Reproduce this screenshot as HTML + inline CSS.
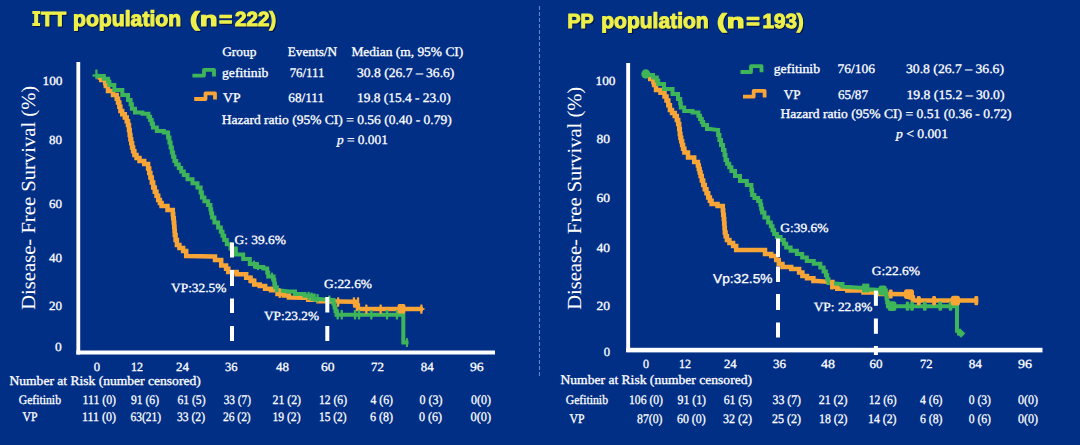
<!DOCTYPE html>
<html><head><meta charset="utf-8"><title>DFS Kaplan-Meier</title>
<style>
html,body{margin:0;padding:0;background:#022f86;}
body{width:1080px;height:445px;overflow:hidden;font-family:"Liberation Serif",serif;}
svg{display:block}
.ttl2{filter:drop-shadow(1px 1px 0.7px rgba(0,0,30,.6));}
.ttl{paint-order:stroke;filter:drop-shadow(1px 1px 0.7px rgba(0,0,30,.6));}
text{text-rendering:geometricPrecision}
.w{stroke:#fff;stroke-width:.3px}
.ttl{stroke:#eef04a;stroke-width:1.1px;stroke-linejoin:round}
</style></head><body>
<svg width="1080" height="445" viewBox="0 0 1080 445">
<rect width="1080" height="445" fill="#022f86"/>
<line x1="539.5" y1="6" x2="539.5" y2="378" stroke="#6284c8" stroke-width="1.1" stroke-dasharray="4 2"/>
<rect x="76.4" y="62" width="3.8" height="292.5" fill="#ffffff"/>
<rect x="76.4" y="350.5" width="418.6" height="4" fill="#ffffff"/>
<rect x="626.2" y="63" width="3.9" height="289" fill="#ffffff"/>
<rect x="626.2" y="347.8" width="416.3" height="4.6" fill="#ffffff"/>
<polyline points="97.5,77.5 101.2,77.5 101.2,80.0 105.0,80.0 105.2,80.0 105.2,83.0 105.5,83.0 105.8,83.0 105.8,86.0 106.0,86.0 108.0,86.0 108.0,91.0 110.0,91.0 113.0,91.0 113.0,95.0 116.0,95.0 116.7,95.0 116.7,98.8 117.3,98.8 118.0,98.8 118.0,102.5 118.7,102.5 119.3,102.5 119.3,106.8 119.8,106.8 120.4,106.8 120.4,111.0 121.0,111.0 122.2,111.0 122.2,114.2 123.5,114.2 124.8,114.2 124.8,117.5 126.0,117.5 126.7,117.5 126.7,121.2 127.3,121.2 128.0,121.2 128.0,125.0 128.7,125.0 129.0,125.0 129.0,130.0 129.3,130.0 129.7,130.0 129.7,135.0 130.0,135.0 130.4,135.0 130.4,139.2 130.8,139.2 131.2,139.2 131.2,143.3 131.7,143.3 132.1,143.3 132.1,147.5 132.5,147.5 133.1,147.5 133.1,151.2 133.8,151.2 134.4,151.2 134.4,155.0 135.0,155.0 136.5,155.0 136.5,158.0 138.0,158.0 139.5,158.0 139.5,161.0 141.0,161.0 144.2,161.0 144.2,164.0 147.5,164.0 148.1,164.0 148.1,168.5 148.7,168.5 149.2,168.5 149.2,173.0 149.8,173.0 150.4,173.0 150.4,177.5 151.0,177.5 151.8,177.5 151.8,182.5 152.5,182.5 153.2,182.5 153.2,187.5 154.0,187.5 154.8,187.5 154.8,191.7 155.7,191.7 156.5,191.7 156.5,195.8 157.3,195.8 158.2,195.8 158.2,200.0 159.0,200.0 159.9,200.0 159.9,203.0 160.8,203.0 161.6,203.0 161.6,206.0 162.5,206.0 167.5,206.0 167.5,210.0 172.5,210.0 172.8,210.0 172.8,214.2 173.0,214.2 173.2,214.2 173.2,218.3 173.5,218.3 173.8,218.3 173.8,222.5 174.0,222.5 174.2,222.5 174.2,226.7 174.3,226.7 174.5,226.7 174.5,230.8 174.7,230.8 174.8,230.8 174.8,235.0 175.0,235.0 175.6,235.0 175.6,240.0 176.2,240.0 176.9,240.0 176.9,245.0 177.5,245.0 179.4,245.0 179.4,248.0 181.2,248.0 183.1,248.0 183.1,251.0 185.0,251.0 186.2,251.0 186.2,256.0 187.5,256.0 212.5,256.5 215.0,256.5 215.0,260.0 217.5,260.0 221.2,260.0 221.2,265.4 225.0,265.4 226.1,265.4 226.1,268.7 227.2,268.7 228.3,268.7 228.3,272.0 229.4,272.0 236.7,272.0 236.7,274.2 244.0,274.2 246.2,274.2 246.2,277.8 248.4,277.8 250.6,277.8 250.6,280.8 252.7,280.8 254.2,280.8 254.2,284.4 255.7,284.4 259.7,284.4 259.7,285.9 263.7,285.9 265.1,285.9 265.1,288.8 266.6,288.8 271.0,288.8 271.0,290.3 275.4,290.3 277.5,290.3 277.5,293.9 279.7,293.9 283.8,293.9 283.8,295.4 287.8,295.4 288.9,295.4 288.9,297.6 290.0,297.6 303.8,297.8 308.2,297.8 308.2,299.7 312.6,299.7 318.5,299.7 318.5,301.2 324.3,301.2 354.4,301.8 355.5,301.8 355.5,305.5 356.7,305.5 357.9,305.5 357.9,309.1 359.0,309.1 423.0,309.1" fill="none" stroke="#f8a537" stroke-width="4.5" stroke-linejoin="miter" stroke-linecap="butt"/>
<polyline points="96.0,75.5 100.0,76.0 103.8,76.0 103.8,78.7 107.5,78.7 108.1,78.7 108.1,81.8 108.8,81.8 109.4,81.8 109.4,85.0 110.0,85.0 114.3,85.0 114.3,90.0 118.7,90.0 122.3,90.0 122.3,95.0 126.0,95.0 128.0,95.0 128.0,100.0 130.0,100.0 130.6,100.0 130.6,104.3 131.2,104.3 131.9,104.3 131.9,108.7 132.5,108.7 135.0,108.7 135.0,112.5 137.5,112.5 142.5,112.5 142.5,113.7 147.5,113.7 148.4,113.7 148.4,116.8 149.2,116.8 150.1,116.8 150.1,120.0 151.0,120.0 151.7,120.0 151.7,123.8 152.3,123.8 153.0,123.8 153.0,127.5 153.7,127.5 156.8,127.5 156.8,131.0 160.0,131.0 163.8,131.0 163.8,132.5 167.5,132.5 168.1,132.5 168.1,137.5 168.8,137.5 169.4,137.5 169.4,142.5 170.0,142.5 170.6,142.5 170.6,147.5 171.2,147.5 171.9,147.5 171.9,152.5 172.5,152.5 173.1,152.5 173.1,156.8 173.8,156.8 174.4,156.8 174.4,161.0 175.0,161.0 176.2,161.0 176.2,164.5 177.5,164.5 178.8,164.5 178.8,168.0 180.0,168.0 181.2,168.0 181.2,171.5 182.5,171.5 183.8,171.5 183.8,175.0 185.0,175.0 187.5,175.0 187.5,179.2 190.0,179.2 192.5,179.2 192.5,183.3 195.0,183.3 197.5,183.3 197.5,187.5 200.0,187.5 200.6,187.5 200.6,192.5 201.2,192.5 201.9,192.5 201.9,197.5 202.5,197.5 204.4,197.5 204.4,201.2 206.2,201.2 208.1,201.2 208.1,205.0 210.0,205.0 210.4,205.0 210.4,209.2 210.8,209.2 211.2,209.2 211.2,213.3 211.7,213.3 212.1,213.3 212.1,217.5 212.5,217.5 214.4,217.5 214.4,222.5 216.2,222.5 218.1,222.5 218.1,227.5 220.0,227.5 220.8,227.5 220.8,231.7 221.7,231.7 222.5,231.7 222.5,235.8 223.3,235.8 224.2,235.8 224.2,240.0 225.0,240.0 226.8,240.0 226.8,244.3 228.7,244.3 230.5,244.3 230.5,248.6 232.3,248.6 235.9,248.6 235.9,254.5 239.6,254.5 243.2,254.5 243.2,258.9 246.9,258.9 249.8,258.9 249.8,264.0 252.7,264.0 256.4,264.0 256.4,266.9 260.0,266.9 263.3,266.9 263.3,268.4 266.6,268.4 267.2,268.4 267.2,272.4 267.7,272.4 268.2,272.4 268.2,276.4 268.8,276.4 273.2,276.4 273.6,276.4 273.6,280.0 273.9,280.0 274.3,280.0 274.3,283.7 274.7,283.7 275.0,283.7 275.0,287.3 275.4,287.3 276.9,287.3 276.9,290.3 278.3,290.3 289.2,291.4 295.0,291.4 295.0,293.9 300.9,293.9 304.5,293.9 304.5,295.8 308.2,295.8 313.3,295.8 313.3,299.0 318.4,299.0 333.0,300.0 333.5,300.0 333.5,303.7 334.0,303.7 334.5,303.7 334.5,307.4 335.0,307.4 335.5,307.4 335.5,311.0 336.0,311.0 336.5,311.0 336.5,314.7 337.0,314.7 403.3,314.7 403.3,342.6 408.5,342.6" fill="none" stroke="#3fb55a" stroke-width="4.0" stroke-linejoin="miter" stroke-linecap="butt"/>
<polyline points="647.5,76.0 650.2,76.0 650.2,79.0 653.0,79.0 653.4,79.0 653.4,82.0 653.8,82.0 654.1,82.0 654.1,85.0 654.5,85.0 656.0,85.0 656.0,90.0 657.5,90.0 660.5,90.0 660.5,92.7 663.5,92.7 664.5,92.7 664.5,96.6 665.5,96.6 666.5,96.6 666.5,100.5 667.5,100.5 668.3,100.5 668.3,105.2 669.1,105.2 669.9,105.2 669.9,110.0 670.7,110.0 672.0,110.0 672.0,113.0 673.4,113.0 674.7,113.0 674.7,116.0 676.0,116.0 676.8,116.0 676.8,120.0 677.5,120.0 678.2,120.0 678.2,124.0 679.0,124.0 679.2,124.0 679.2,129.0 679.5,129.0 679.8,129.0 679.8,134.0 680.0,134.0 680.4,134.0 680.4,137.7 680.8,137.7 681.2,137.7 681.2,141.3 681.7,141.3 682.1,141.3 682.1,145.0 682.5,145.0 683.1,145.0 683.1,148.8 683.8,148.8 684.4,148.8 684.4,152.5 685.0,152.5 688.0,152.5 688.0,157.5 691.0,157.5 694.2,157.5 694.2,162.0 697.5,162.0 697.9,162.0 697.9,165.5 698.4,165.5 698.8,165.5 698.8,169.0 699.2,169.0 699.7,169.0 699.7,172.5 700.1,172.5 700.6,172.5 700.6,176.0 701.0,176.0 701.8,176.0 701.8,180.5 702.5,180.5 703.2,180.5 703.2,185.0 704.0,185.0 704.8,185.0 704.8,189.2 705.7,189.2 706.5,189.2 706.5,193.3 707.3,193.3 708.2,193.3 708.2,197.5 709.0,197.5 709.9,197.5 709.9,200.8 710.8,200.8 711.6,200.8 711.6,204.0 712.5,204.0 717.5,204.0 717.5,206.0 722.5,206.0 722.8,206.0 722.8,210.3 723.0,210.3 723.2,210.3 723.2,214.7 723.5,214.7 723.8,214.7 723.8,219.0 724.0,219.0 724.2,219.0 724.2,223.5 724.3,223.5 724.5,223.5 724.5,228.0 724.7,228.0 724.8,228.0 724.8,232.5 725.0,232.5 725.6,232.5 725.6,236.2 726.2,236.2 726.9,236.2 726.9,240.0 727.5,240.0 729.4,240.0 729.4,243.0 731.2,243.0 733.1,243.0 733.1,246.0 735.0,246.0 736.2,246.0 736.2,250.0 737.5,250.0 762.5,250.0 765.0,250.0 765.0,254.0 767.5,254.0 771.2,254.0 771.2,256.0 775.0,256.0 776.2,256.0 776.2,260.0 777.5,260.0 778.8,260.0 778.8,264.0 780.0,264.0 782.5,264.0 782.5,267.0 785.0,267.0 791.2,267.0 791.2,269.0 797.5,269.0 799.1,269.0 799.1,272.5 800.8,272.5 802.4,272.5 802.4,276.0 804.0,276.0 807.0,276.0 807.0,278.2 810.0,278.2 813.4,278.2 813.4,281.0 816.7,281.0 831.0,282.0 832.5,282.0 832.5,286.8 833.9,286.8 837.2,286.8 837.2,288.7 840.6,288.7 847.3,288.7 847.3,290.6 854.0,290.6 863.5,290.6 863.5,292.5 873.0,292.5 879.7,292.5 879.7,294.0 886.4,294.0 909.4,294.2 910.6,294.2 910.6,297.4 911.8,297.4 912.9,297.4 912.9,300.6 914.1,300.6 978.2,300.6" fill="none" stroke="#f8a537" stroke-width="4.5" stroke-linejoin="miter" stroke-linecap="butt"/>
<polyline points="645.0,73.7 647.5,73.7 647.5,75.0 650.0,75.0 653.0,75.0 653.0,77.5 656.0,77.5 656.8,77.5 656.8,80.8 657.5,80.8 658.2,80.8 658.2,84.0 659.0,84.0 664.0,84.0 664.0,89.0 669.0,89.0 672.5,89.0 672.5,94.0 676.0,94.0 678.0,94.0 678.0,99.0 680.0,99.0 680.2,99.0 680.2,103.2 680.5,103.2 680.8,103.2 680.8,107.5 681.0,107.5 684.2,107.5 684.2,111.0 687.5,111.0 692.5,111.0 692.5,112.5 697.5,112.5 698.4,112.5 698.4,115.8 699.2,115.8 700.1,115.8 700.1,119.0 701.0,119.0 701.8,119.0 701.8,122.0 702.5,122.0 703.2,122.0 703.2,125.0 704.0,125.0 707.0,125.0 707.0,129.0 710.0,129.0 717.5,130.0 718.1,130.0 718.1,135.0 718.8,135.0 719.4,135.0 719.4,140.0 720.0,140.0 721.0,140.0 721.0,145.0 722.0,145.0 723.0,145.0 723.0,150.0 724.0,150.0 724.5,150.0 724.5,155.0 725.0,155.0 725.5,155.0 725.5,160.0 726.0,160.0 727.1,160.0 727.1,163.7 728.2,163.7 729.2,163.7 729.2,167.3 730.3,167.3 731.4,167.3 731.4,171.0 732.5,171.0 735.0,171.0 735.0,176.0 737.5,176.0 740.0,176.0 740.0,181.0 742.5,181.0 746.8,181.0 746.8,185.0 751.0,185.0 751.4,185.0 751.4,190.0 751.8,190.0 752.1,190.0 752.1,195.0 752.5,195.0 754.4,195.0 754.4,198.0 756.2,198.0 758.1,198.0 758.1,201.0 760.0,201.0 760.4,201.0 760.4,204.8 760.8,204.8 761.2,204.8 761.2,208.7 761.7,208.7 762.1,208.7 762.1,212.5 762.5,212.5 764.4,212.5 764.4,217.5 766.2,217.5 768.1,217.5 768.1,222.5 770.0,222.5 770.8,222.5 770.8,226.3 771.7,226.3 772.5,226.3 772.5,230.2 773.3,230.2 774.2,230.2 774.2,234.0 775.0,234.0 776.9,234.0 776.9,237.0 778.8,237.0 780.6,237.0 780.6,240.0 782.5,240.0 783.8,240.0 783.8,243.8 785.0,243.8 786.2,243.8 786.2,247.5 787.5,247.5 790.6,247.5 790.6,250.8 793.8,250.8 796.9,250.8 796.9,254.0 800.0,254.0 802.2,254.0 802.2,257.5 804.5,257.5 806.8,257.5 806.8,261.0 809.0,261.0 813.8,261.0 813.8,263.8 818.6,263.8 820.3,263.8 820.3,267.6 822.0,267.6 823.6,267.6 823.6,271.5 825.3,271.5 825.9,271.5 825.9,275.3 826.6,275.3 827.2,275.3 827.2,279.2 827.8,279.2 828.5,279.2 828.5,283.0 829.1,283.0 840.6,283.9 842.5,283.9 842.5,286.8 844.4,286.8 859.7,287.7 866.4,287.7 866.4,289.6 873.0,289.6 885.5,290.6 885.9,290.6 885.9,294.5 886.2,294.5 886.5,294.5 886.5,298.4 886.9,298.4 887.2,298.4 887.2,302.3 887.6,302.3 887.9,302.3 887.9,306.2 888.3,306.2 957.0,306.2 957.0,330.7 959.0,330.7 959.0,333.6 961.0,333.6" fill="none" stroke="#3fb55a" stroke-width="4.0" stroke-linejoin="miter" stroke-linecap="butt"/>
<rect x="95.3" y="69.6" width="2.2" height="9.6" rx="0.6" fill="#3fb55a"/>
<rect x="92.5" y="74.4" width="9" height="2.2" fill="#3fb55a"/>
<rect x="336.5" y="310.0" width="2.3" height="9.4" rx="0.6" fill="#3fb55a"/><rect x="340.6" y="310.0" width="2.3" height="9.4" rx="0.6" fill="#3fb55a"/><rect x="353.9" y="310.0" width="2.3" height="9.4" rx="0.6" fill="#3fb55a"/><rect x="357.9" y="310.0" width="2.3" height="9.4" rx="0.6" fill="#3fb55a"/><rect x="370.2" y="310.0" width="2.3" height="9.4" rx="0.6" fill="#3fb55a"/><rect x="385.9" y="310.0" width="2.3" height="9.4" rx="0.6" fill="#3fb55a"/><rect x="395.8" y="310.0" width="2.3" height="9.4" rx="0.6" fill="#3fb55a"/>
<rect x="307.4" y="291.8" width="2.3" height="8.5" rx="0.6" fill="#3fb55a"/><rect x="310.4" y="292.6" width="2.3" height="8.5" rx="0.6" fill="#3fb55a"/><rect x="313.4" y="293.4" width="2.3" height="8.5" rx="0.6" fill="#3fb55a"/><rect x="316.4" y="294.1" width="2.3" height="8.5" rx="0.6" fill="#3fb55a"/><rect x="328.2" y="295.6" width="2.3" height="8.5" rx="0.6" fill="#3fb55a"/>
<rect x="253.0" y="260.5" width="2" height="8" rx="0.6" fill="#3fb55a"/><rect x="257.0" y="262.2" width="2" height="8" rx="0.6" fill="#3fb55a"/><rect x="271.0" y="272.4" width="2" height="8" rx="0.6" fill="#3fb55a"/>
<rect x="249.5" y="275.5" width="2" height="8" rx="0.6" fill="#f8a537"/><rect x="253.0" y="278.5" width="2" height="8" rx="0.6" fill="#f8a537"/>
<rect x="406.0" y="338.0" width="2" height="9" rx="0.6" fill="#3fb55a"/>
<rect x="278.6" y="288.6" width="2.3" height="9.4" rx="0.6" fill="#f8a537"/>
<rect x="337.0" y="297.3" width="2.3" height="9.4" rx="0.6" fill="#f8a537"/><rect x="352.8" y="297.3" width="2.3" height="9.4" rx="0.6" fill="#f8a537"/><rect x="356.9" y="297.3" width="2.3" height="9.4" rx="0.6" fill="#f8a537"/>
<rect x="365.2" y="304.4" width="2.3" height="9.4" rx="0.6" fill="#f8a537"/><rect x="379.5" y="304.4" width="2.3" height="9.4" rx="0.6" fill="#f8a537"/><rect x="420.2" y="304.4" width="2.3" height="9.4" rx="0.6" fill="#f8a537"/>
<path d="M421,306.9 L425.4,309.1 L421,311.3 Z" fill="#f8a537"/>
<rect x="397.6" y="304" width="7.8" height="9.4" rx="1.5" fill="#f8a537"/>
<ellipse cx="645.8" cy="74" rx="4.5" ry="4.7" fill="#3fb55a"/>
<rect x="905.7" y="301.6" width="3.6" height="9.2" rx="1.2" fill="#3fb55a"/><rect x="910.2" y="301.6" width="3.6" height="9.2" rx="1.2" fill="#3fb55a"/><rect x="923.0" y="301.6" width="3.6" height="9.2" rx="1.2" fill="#3fb55a"/><rect x="938.4" y="301.6" width="3.6" height="9.2" rx="1.2" fill="#3fb55a"/><rect x="948.7" y="301.6" width="3.6" height="9.2" rx="1.2" fill="#3fb55a"/>
<rect x="862.1" y="283.5" width="3.8" height="9" rx="1.2" fill="#3fb55a"/><rect x="865.6" y="283.5" width="3.8" height="9" rx="1.2" fill="#3fb55a"/>
<rect x="878.5" y="285.5" width="8.2" height="10" rx="2.5" fill="#3fb55a"/>
<rect x="887.6" y="301.3" width="8.8" height="9.8" rx="2.5" fill="#3fb55a"/>
<rect x="958.0" y="330.6" width="6.0" height="6.0" fill="#3fb55a" transform="rotate(45 961.0 333.6)"/>
<rect x="830.1" y="280.4" width="3.8" height="9.2" rx="1.2" fill="#f8a537"/><rect x="888.8" y="289.4" width="3.8" height="9.2" rx="1.2" fill="#f8a537"/>
<rect x="916.9" y="296.0" width="3.8" height="9.2" rx="1.2" fill="#f8a537"/><rect x="932.2" y="296.0" width="3.8" height="9.2" rx="1.2" fill="#f8a537"/><rect x="974.4" y="296.0" width="3.8" height="9.2" rx="1.2" fill="#f8a537"/>
<rect x="904" y="289.3" width="10" height="9.8" rx="2.5" fill="#f8a537"/>
<rect x="950.8" y="295.7" width="9.2" height="9.8" rx="2.5" fill="#f8a537"/>
<rect x="230.0" y="242.5" width="4" height="15.0" fill="#ffffff"/><rect x="230.0" y="270.0" width="4" height="16.0" fill="#ffffff"/><rect x="230.0" y="298.5" width="4" height="14.5" fill="#ffffff"/><rect x="230.0" y="326.0" width="4" height="15.0" fill="#ffffff"/>
<rect x="325.3" y="297.0" width="4" height="15.5" fill="#ffffff"/><rect x="325.3" y="326.0" width="4" height="15.0" fill="#ffffff"/>
<rect x="776.0" y="238.5" width="4" height="18.5" fill="#ffffff"/><rect x="776.0" y="266.5" width="4" height="15.5" fill="#ffffff"/><rect x="776.0" y="294.0" width="4" height="16.0" fill="#ffffff"/><rect x="776.0" y="322.5" width="4" height="15.0" fill="#ffffff"/>
<rect x="873.9" y="290.6" width="4" height="15.2" fill="#ffffff"/><rect x="873.9" y="318.5" width="4" height="15.3" fill="#ffffff"/><rect x="873.9" y="346.0" width="4" height="9.0" fill="#ffffff"/>
<path d="M192.4,75.6H204V69.8H214V76.5" fill="none" stroke="#3fb55a" stroke-width="3.8" stroke-linejoin="round"/>
<path d="M194.2,99H205.5V93.3H215V99.5" fill="none" stroke="#f8a537" stroke-width="3.8" stroke-linejoin="round"/>
<path d="M740.5,72H751V66.2H761.5V72.2" fill="none" stroke="#3fb55a" stroke-width="3.8" stroke-linejoin="round"/>
<path d="M743,96.7H753.7V90.8H764.6V97.5" fill="none" stroke="#f8a537" stroke-width="3.8" stroke-linejoin="round"/>
<path class="ttl2" d="M32.3,11.1H40.1V13.9H38.2V23.1H40.1V25.9H32.3V23.1H34.2V13.9H32.3Z" fill="#eef04a"/>
<text x="40.9" y="26.0" font-family="Liberation Sans" font-size="20.4" fill="#eef04a" font-weight="bold" font-style="normal" textLength="25.3" lengthAdjust="spacingAndGlyphs" class="ttl">TT</text>
<text x="73.0" y="26.0" font-family="Liberation Sans" font-size="21.5" fill="#eef04a" font-weight="bold" font-style="normal" textLength="108.2" lengthAdjust="spacingAndGlyphs" class="ttl">population</text>
<text x="190.0" y="26.0" font-family="Liberation Sans" font-size="20.4" fill="#eef04a" font-weight="bold" font-style="normal" textLength="27.5" lengthAdjust="spacingAndGlyphs" class="ttl">(n</text>
<text x="218.9" y="26.0" font-family="Liberation Sans" font-size="20.4" fill="#eef04a" font-weight="bold" font-style="normal" textLength="13.4" lengthAdjust="spacingAndGlyphs" class="ttl">=</text>
<text x="235.0" y="26.0" font-family="Liberation Sans" font-size="20.4" fill="#eef04a" font-weight="bold" font-style="normal" textLength="41.2" lengthAdjust="spacingAndGlyphs" class="ttl">222)</text>
<text x="222.2" y="55.8" font-family="Liberation Serif" font-size="13" fill="#ffffff" font-weight="normal" font-style="normal" textLength="34.2" lengthAdjust="spacingAndGlyphs" class="w">Group</text>
<text x="287.8" y="55.8" font-family="Liberation Serif" font-size="13" fill="#ffffff" font-weight="normal" font-style="normal" textLength="49.2" lengthAdjust="spacingAndGlyphs" class="w">Events/N</text>
<text x="351.4" y="55.8" font-family="Liberation Serif" font-size="13" fill="#ffffff" font-weight="normal" font-style="normal" textLength="111.9" lengthAdjust="spacingAndGlyphs" class="w">Median (m, 95% CI)</text>
<text x="222.0" y="76.7" font-family="Liberation Serif" font-size="13" fill="#ffffff" font-weight="normal" font-style="normal" textLength="46.3" lengthAdjust="spacingAndGlyphs" class="w">gefitinib</text>
<text x="289.7" y="76.7" font-family="Liberation Serif" font-size="13" fill="#ffffff" font-weight="normal" font-style="normal" textLength="34.7" lengthAdjust="spacingAndGlyphs" class="w">76/111</text>
<text x="357.0" y="76.7" font-family="Liberation Serif" font-size="13" fill="#ffffff" font-weight="normal" font-style="normal" textLength="97.4" lengthAdjust="spacingAndGlyphs" class="w">30.8 (26.7 – 36.6)</text>
<text x="223.0" y="101.7" font-family="Liberation Serif" font-size="13" fill="#ffffff" font-weight="normal" font-style="normal" textLength="17.5" lengthAdjust="spacingAndGlyphs" class="w">VP</text>
<text x="288.3" y="101.7" font-family="Liberation Serif" font-size="13" fill="#ffffff" font-weight="normal" font-style="normal" textLength="35.7" lengthAdjust="spacingAndGlyphs" class="w">68/111</text>
<text x="357.0" y="101.7" font-family="Liberation Serif" font-size="13" fill="#ffffff" font-weight="normal" font-style="normal" textLength="93.8" lengthAdjust="spacingAndGlyphs" class="w">19.8 (15.4 - 23.0)</text>
<text x="221.7" y="123.9" font-family="Liberation Serif" font-size="13" fill="#ffffff" font-weight="normal" font-style="normal" textLength="230.0" lengthAdjust="spacingAndGlyphs" class="w">Hazard ratio (95% CI) = 0.56 (0.40 - 0.79)</text>
<text x="337" y="143.9" font-family="Liberation Serif" font-size="13" fill="#ffffff" class="w" textLength="50.8" lengthAdjust="spacingAndGlyphs"><tspan font-style="italic">p</tspan> = 0.001</text>
<text x="42.5" y="85.0" font-family="Liberation Serif" font-size="12.5" fill="#ffffff" font-weight="normal" font-style="normal" textLength="20.0" lengthAdjust="spacingAndGlyphs" class="w">100</text>
<text x="49.0" y="144.3" font-family="Liberation Serif" font-size="12.5" fill="#ffffff" font-weight="normal" font-style="normal" textLength="13.0" lengthAdjust="spacingAndGlyphs" class="w">80</text>
<text x="49.0" y="208.3" font-family="Liberation Serif" font-size="12.5" fill="#ffffff" font-weight="normal" font-style="normal" textLength="13.0" lengthAdjust="spacingAndGlyphs" class="w">60</text>
<text x="49.0" y="262.2" font-family="Liberation Serif" font-size="12.5" fill="#ffffff" font-weight="normal" font-style="normal" textLength="13.0" lengthAdjust="spacingAndGlyphs" class="w">40</text>
<text x="49.0" y="310.0" font-family="Liberation Serif" font-size="12.5" fill="#ffffff" font-weight="normal" font-style="normal" textLength="13.0" lengthAdjust="spacingAndGlyphs" class="w">20</text>
<text x="55.0" y="351.3" font-family="Liberation Serif" font-size="12.5" fill="#ffffff" font-weight="normal" font-style="normal" textLength="6.7" lengthAdjust="spacingAndGlyphs" class="w">0</text>
<text x="93.7" y="370.7" font-family="Liberation Serif" font-size="12.5" fill="#ffffff" font-weight="normal" font-style="normal" textLength="6.3" lengthAdjust="spacingAndGlyphs" class="w">0</text>
<text x="131.0" y="370.7" font-family="Liberation Serif" font-size="12.5" fill="#ffffff" font-weight="normal" font-style="normal" textLength="12.0" lengthAdjust="spacingAndGlyphs" class="w">12</text>
<text x="176.0" y="370.7" font-family="Liberation Serif" font-size="12.5" fill="#ffffff" font-weight="normal" font-style="normal" textLength="13.0" lengthAdjust="spacingAndGlyphs" class="w">24</text>
<text x="225.0" y="370.7" font-family="Liberation Serif" font-size="12.5" fill="#ffffff" font-weight="normal" font-style="normal" textLength="12.5" lengthAdjust="spacingAndGlyphs" class="w">36</text>
<text x="276.0" y="370.7" font-family="Liberation Serif" font-size="12.5" fill="#ffffff" font-weight="normal" font-style="normal" textLength="13.0" lengthAdjust="spacingAndGlyphs" class="w">48</text>
<text x="321.0" y="370.7" font-family="Liberation Serif" font-size="12.5" fill="#ffffff" font-weight="normal" font-style="normal" textLength="13.5" lengthAdjust="spacingAndGlyphs" class="w">60</text>
<text x="371.0" y="370.7" font-family="Liberation Serif" font-size="12.5" fill="#ffffff" font-weight="normal" font-style="normal" textLength="13.0" lengthAdjust="spacingAndGlyphs" class="w">72</text>
<text x="420.7" y="370.7" font-family="Liberation Serif" font-size="12.5" fill="#ffffff" font-weight="normal" font-style="normal" textLength="13.0" lengthAdjust="spacingAndGlyphs" class="w">84</text>
<text x="470.0" y="370.7" font-family="Liberation Serif" font-size="12.5" fill="#ffffff" font-weight="normal" font-style="normal" textLength="13.7" lengthAdjust="spacingAndGlyphs" class="w">96</text>
<text x="234.5" y="243.7" font-family="Liberation Serif" font-size="12.5" fill="#ffffff" font-weight="normal" font-style="normal" textLength="51.5" lengthAdjust="spacingAndGlyphs" class="w">G: 39.6%</text>
<text x="324.0" y="287.5" font-family="Liberation Serif" font-size="12.5" fill="#ffffff" font-weight="normal" font-style="normal" textLength="48.0" lengthAdjust="spacingAndGlyphs" class="w">G:22.6%</text>
<text x="264.0" y="320.0" font-family="Liberation Serif" font-size="12.5" fill="#ffffff" font-weight="normal" font-style="normal" textLength="55.0" lengthAdjust="spacingAndGlyphs" class="w">VP:23.2%</text>
<text x="171.0" y="292.3" font-family="Liberation Serif" font-size="12.5" fill="#ffffff" font-weight="normal" font-style="normal" textLength="55.5" lengthAdjust="spacingAndGlyphs" class="w">VP:32.5%</text>
<text transform="translate(35,309.8) rotate(-90)" font-family="Liberation Serif" font-size="20" fill="#ffffff" textLength="224" lengthAdjust="spacingAndGlyphs">Disease- Free Survival (%)</text>
<text x="9.5" y="384.8" font-family="Liberation Serif" font-size="13" fill="#ffffff" font-weight="normal" font-style="normal" textLength="191.2" lengthAdjust="spacingAndGlyphs" class="w">Number at Risk (number censored)</text>
<text x="18.7" y="403.7" font-family="Liberation Serif" font-size="13" fill="#ffffff" font-weight="normal" font-style="normal" textLength="42.3" lengthAdjust="spacingAndGlyphs" class="w">Gefitinib</text>
<text x="22.5" y="420.7" font-family="Liberation Serif" font-size="13" fill="#ffffff" font-weight="normal" font-style="normal" textLength="15.0" lengthAdjust="spacingAndGlyphs" class="w">VP</text>
<text x="82.5" y="403.7" font-family="Liberation Serif" font-size="13" fill="#ffffff" font-weight="normal" font-style="normal" textLength="33.5" lengthAdjust="spacingAndGlyphs" class="w">111 (0)</text>
<text x="131.0" y="403.7" font-family="Liberation Serif" font-size="13" fill="#ffffff" font-weight="normal" font-style="normal" textLength="28.0" lengthAdjust="spacingAndGlyphs" class="w">91 (6)</text>
<text x="177.5" y="403.7" font-family="Liberation Serif" font-size="13" fill="#ffffff" font-weight="normal" font-style="normal" textLength="28.0" lengthAdjust="spacingAndGlyphs" class="w">61 (5)</text>
<text x="223.7" y="403.7" font-family="Liberation Serif" font-size="13" fill="#ffffff" font-weight="normal" font-style="normal" textLength="27.3" lengthAdjust="spacingAndGlyphs" class="w">33 (7)</text>
<text x="272.5" y="403.7" font-family="Liberation Serif" font-size="13" fill="#ffffff" font-weight="normal" font-style="normal" textLength="28.5" lengthAdjust="spacingAndGlyphs" class="w">21 (2)</text>
<text x="319.0" y="403.7" font-family="Liberation Serif" font-size="13" fill="#ffffff" font-weight="normal" font-style="normal" textLength="28.0" lengthAdjust="spacingAndGlyphs" class="w">12 (6)</text>
<text x="370.5" y="403.7" font-family="Liberation Serif" font-size="13" fill="#ffffff" font-weight="normal" font-style="normal" textLength="22.5" lengthAdjust="spacingAndGlyphs" class="w">4 (6)</text>
<text x="419.5" y="403.7" font-family="Liberation Serif" font-size="13" fill="#ffffff" font-weight="normal" font-style="normal" textLength="23.0" lengthAdjust="spacingAndGlyphs" class="w">0 (3)</text>
<text x="471.0" y="403.7" font-family="Liberation Serif" font-size="13" fill="#ffffff" font-weight="normal" font-style="normal" textLength="20.0" lengthAdjust="spacingAndGlyphs" class="w">0(0)</text>
<text x="82.0" y="420.7" font-family="Liberation Serif" font-size="13" fill="#ffffff" font-weight="normal" font-style="normal" textLength="34.0" lengthAdjust="spacingAndGlyphs" class="w">111 (0)</text>
<text x="130.5" y="420.7" font-family="Liberation Serif" font-size="13" fill="#ffffff" font-weight="normal" font-style="normal" textLength="30.5" lengthAdjust="spacingAndGlyphs" class="w">63(21)</text>
<text x="177.0" y="420.7" font-family="Liberation Serif" font-size="13" fill="#ffffff" font-weight="normal" font-style="normal" textLength="28.0" lengthAdjust="spacingAndGlyphs" class="w">33 (2)</text>
<text x="223.0" y="420.7" font-family="Liberation Serif" font-size="13" fill="#ffffff" font-weight="normal" font-style="normal" textLength="27.7" lengthAdjust="spacingAndGlyphs" class="w">26 (2)</text>
<text x="272.5" y="420.7" font-family="Liberation Serif" font-size="13" fill="#ffffff" font-weight="normal" font-style="normal" textLength="28.0" lengthAdjust="spacingAndGlyphs" class="w">19 (2)</text>
<text x="319.0" y="420.7" font-family="Liberation Serif" font-size="13" fill="#ffffff" font-weight="normal" font-style="normal" textLength="27.5" lengthAdjust="spacingAndGlyphs" class="w">15 (2)</text>
<text x="370.0" y="420.7" font-family="Liberation Serif" font-size="13" fill="#ffffff" font-weight="normal" font-style="normal" textLength="23.0" lengthAdjust="spacingAndGlyphs" class="w">6 (8)</text>
<text x="419.0" y="420.7" font-family="Liberation Serif" font-size="13" fill="#ffffff" font-weight="normal" font-style="normal" textLength="23.0" lengthAdjust="spacingAndGlyphs" class="w">0 (6)</text>
<text x="470.5" y="420.7" font-family="Liberation Serif" font-size="13" fill="#ffffff" font-weight="normal" font-style="normal" textLength="20.5" lengthAdjust="spacingAndGlyphs" class="w">0(0)</text>
<text x="567.5" y="27.8" font-family="Liberation Sans" font-size="20.4" fill="#eef04a" font-weight="bold" font-style="normal" textLength="26.2" lengthAdjust="spacingAndGlyphs" class="ttl">PP</text>
<text x="601.2" y="27.8" font-family="Liberation Sans" font-size="21.5" fill="#eef04a" font-weight="bold" font-style="normal" textLength="107.5" lengthAdjust="spacingAndGlyphs" class="ttl">population</text>
<text x="717.0" y="27.8" font-family="Liberation Sans" font-size="20.4" fill="#eef04a" font-weight="bold" font-style="normal" textLength="27.5" lengthAdjust="spacingAndGlyphs" class="ttl">(n</text>
<text x="746.2" y="27.8" font-family="Liberation Sans" font-size="20.4" fill="#eef04a" font-weight="bold" font-style="normal" textLength="13.6" lengthAdjust="spacingAndGlyphs" class="ttl">=</text>
<text x="762.5" y="27.8" font-family="Liberation Sans" font-size="20.4" fill="#eef04a" font-weight="bold" font-style="normal" textLength="41.2" lengthAdjust="spacingAndGlyphs" class="ttl">193)</text>
<text x="773.7" y="72.5" font-family="Liberation Serif" font-size="13" fill="#ffffff" font-weight="normal" font-style="normal" textLength="46.3" lengthAdjust="spacingAndGlyphs" class="w">gefitinib</text>
<text x="837.5" y="72.5" font-family="Liberation Serif" font-size="13" fill="#ffffff" font-weight="normal" font-style="normal" textLength="37.5" lengthAdjust="spacingAndGlyphs" class="w">76/106</text>
<text x="906.0" y="72.5" font-family="Liberation Serif" font-size="13" fill="#ffffff" font-weight="normal" font-style="normal" textLength="98.0" lengthAdjust="spacingAndGlyphs" class="w">30.8 (26.7 – 36.6)</text>
<text x="783.7" y="99.0" font-family="Liberation Serif" font-size="13" fill="#ffffff" font-weight="normal" font-style="normal" textLength="16.8" lengthAdjust="spacingAndGlyphs" class="w">VP</text>
<text x="838.0" y="99.0" font-family="Liberation Serif" font-size="13" fill="#ffffff" font-weight="normal" font-style="normal" textLength="30.0" lengthAdjust="spacingAndGlyphs" class="w">65/87</text>
<text x="906.5" y="99.0" font-family="Liberation Serif" font-size="13" fill="#ffffff" font-weight="normal" font-style="normal" textLength="98.0" lengthAdjust="spacingAndGlyphs" class="w">19.8 (15.2 – 30.0)</text>
<text x="780.5" y="118.0" font-family="Liberation Serif" font-size="13" fill="#ffffff" font-weight="normal" font-style="normal" textLength="231.0" lengthAdjust="spacingAndGlyphs" class="w">Hazard ratio (95% CI) = 0.51 (0.36 - 0.72)</text>
<text x="896" y="138" font-family="Liberation Serif" font-size="13" fill="#ffffff" class="w" textLength="52" lengthAdjust="spacingAndGlyphs"><tspan font-style="italic">p</tspan> &lt; 0.001</text>
<text x="595.5" y="85.0" font-family="Liberation Serif" font-size="12.5" fill="#ffffff" font-weight="normal" font-style="normal" textLength="19.9" lengthAdjust="spacingAndGlyphs" class="w">100</text>
<text x="596.5" y="143.0" font-family="Liberation Serif" font-size="12.5" fill="#ffffff" font-weight="normal" font-style="normal" textLength="13.5" lengthAdjust="spacingAndGlyphs" class="w">80</text>
<text x="596.5" y="201.6" font-family="Liberation Serif" font-size="12.5" fill="#ffffff" font-weight="normal" font-style="normal" textLength="13.5" lengthAdjust="spacingAndGlyphs" class="w">60</text>
<text x="596.5" y="252.3" font-family="Liberation Serif" font-size="12.5" fill="#ffffff" font-weight="normal" font-style="normal" textLength="13.5" lengthAdjust="spacingAndGlyphs" class="w">40</text>
<text x="596.5" y="310.3" font-family="Liberation Serif" font-size="12.5" fill="#ffffff" font-weight="normal" font-style="normal" textLength="13.5" lengthAdjust="spacingAndGlyphs" class="w">20</text>
<text x="603.7" y="355.5" font-family="Liberation Serif" font-size="12.5" fill="#ffffff" font-weight="normal" font-style="normal" textLength="6.3" lengthAdjust="spacingAndGlyphs" class="w">0</text>
<text x="643.0" y="368.1" font-family="Liberation Serif" font-size="12.5" fill="#ffffff" font-weight="normal" font-style="normal" textLength="6.0" lengthAdjust="spacingAndGlyphs" class="w">0</text>
<text x="679.0" y="368.1" font-family="Liberation Serif" font-size="12.5" fill="#ffffff" font-weight="normal" font-style="normal" textLength="12.0" lengthAdjust="spacingAndGlyphs" class="w">12</text>
<text x="724.0" y="368.1" font-family="Liberation Serif" font-size="12.5" fill="#ffffff" font-weight="normal" font-style="normal" textLength="12.7" lengthAdjust="spacingAndGlyphs" class="w">24</text>
<text x="773.0" y="368.1" font-family="Liberation Serif" font-size="12.5" fill="#ffffff" font-weight="normal" font-style="normal" textLength="13.0" lengthAdjust="spacingAndGlyphs" class="w">36</text>
<text x="821.0" y="368.1" font-family="Liberation Serif" font-size="12.5" fill="#ffffff" font-weight="normal" font-style="normal" textLength="14.0" lengthAdjust="spacingAndGlyphs" class="w">48</text>
<text x="869.5" y="368.1" font-family="Liberation Serif" font-size="12.5" fill="#ffffff" font-weight="normal" font-style="normal" textLength="13.0" lengthAdjust="spacingAndGlyphs" class="w">60</text>
<text x="920.0" y="368.1" font-family="Liberation Serif" font-size="12.5" fill="#ffffff" font-weight="normal" font-style="normal" textLength="12.5" lengthAdjust="spacingAndGlyphs" class="w">72</text>
<text x="968.7" y="368.1" font-family="Liberation Serif" font-size="12.5" fill="#ffffff" font-weight="normal" font-style="normal" textLength="13.3" lengthAdjust="spacingAndGlyphs" class="w">84</text>
<text x="1018.0" y="368.1" font-family="Liberation Serif" font-size="12.5" fill="#ffffff" font-weight="normal" font-style="normal" textLength="14.0" lengthAdjust="spacingAndGlyphs" class="w">96</text>
<text x="780.3" y="232.2" font-family="Liberation Serif" font-size="12.5" fill="#ffffff" font-weight="normal" font-style="normal" textLength="48.3" lengthAdjust="spacingAndGlyphs" class="w">G:39.6%</text>
<text x="871.7" y="275.0" font-family="Liberation Serif" font-size="12.5" fill="#ffffff" font-weight="normal" font-style="normal" textLength="48.3" lengthAdjust="spacingAndGlyphs" class="w">G:22.6%</text>
<text x="813.7" y="311.0" font-family="Liberation Serif" font-size="12.5" fill="#ffffff" font-weight="normal" font-style="normal" textLength="58.8" lengthAdjust="spacingAndGlyphs" class="w">VP: 22.8%</text>
<text x="713.0" y="283.0" font-family="Liberation Sans" font-size="13" fill="#ffffff" font-weight="normal" font-style="normal" textLength="59.5" lengthAdjust="spacingAndGlyphs" class="w">Vp:32.5%</text>
<text transform="translate(581,309.8) rotate(-90)" font-family="Liberation Serif" font-size="20" fill="#ffffff" textLength="223" lengthAdjust="spacingAndGlyphs">Disease- Free Survival (%)</text>
<text x="560.5" y="384.3" font-family="Liberation Serif" font-size="13" fill="#ffffff" font-weight="normal" font-style="normal" textLength="191.5" lengthAdjust="spacingAndGlyphs" class="w">Number at Risk (number censored)</text>
<text x="565.7" y="403.7" font-family="Liberation Serif" font-size="13" fill="#ffffff" font-weight="normal" font-style="normal" textLength="42.3" lengthAdjust="spacingAndGlyphs" class="w">Gefitinib</text>
<text x="569.5" y="422.5" font-family="Liberation Serif" font-size="13" fill="#ffffff" font-weight="normal" font-style="normal" textLength="15.0" lengthAdjust="spacingAndGlyphs" class="w">VP</text>
<text x="629.0" y="403.7" font-family="Liberation Serif" font-size="13" fill="#ffffff" font-weight="normal" font-style="normal" textLength="34.0" lengthAdjust="spacingAndGlyphs" class="w">106 (0)</text>
<text x="677.5" y="403.7" font-family="Liberation Serif" font-size="13" fill="#ffffff" font-weight="normal" font-style="normal" textLength="28.5" lengthAdjust="spacingAndGlyphs" class="w">91 (1)</text>
<text x="723.7" y="403.7" font-family="Liberation Serif" font-size="13" fill="#ffffff" font-weight="normal" font-style="normal" textLength="28.3" lengthAdjust="spacingAndGlyphs" class="w">61 (5)</text>
<text x="772.5" y="403.7" font-family="Liberation Serif" font-size="13" fill="#ffffff" font-weight="normal" font-style="normal" textLength="28.5" lengthAdjust="spacingAndGlyphs" class="w">33 (7)</text>
<text x="818.7" y="403.7" font-family="Liberation Serif" font-size="13" fill="#ffffff" font-weight="normal" font-style="normal" textLength="28.8" lengthAdjust="spacingAndGlyphs" class="w">21 (2)</text>
<text x="868.7" y="403.7" font-family="Liberation Serif" font-size="13" fill="#ffffff" font-weight="normal" font-style="normal" textLength="28.0" lengthAdjust="spacingAndGlyphs" class="w">12 (6)</text>
<text x="920.0" y="403.7" font-family="Liberation Serif" font-size="13" fill="#ffffff" font-weight="normal" font-style="normal" textLength="22.5" lengthAdjust="spacingAndGlyphs" class="w">4 (6)</text>
<text x="968.7" y="403.7" font-family="Liberation Serif" font-size="13" fill="#ffffff" font-weight="normal" font-style="normal" textLength="22.3" lengthAdjust="spacingAndGlyphs" class="w">0 (3)</text>
<text x="1018.0" y="403.7" font-family="Liberation Serif" font-size="13" fill="#ffffff" font-weight="normal" font-style="normal" textLength="20.0" lengthAdjust="spacingAndGlyphs" class="w">0(0)</text>
<text x="637.0" y="422.5" font-family="Liberation Serif" font-size="13" fill="#ffffff" font-weight="normal" font-style="normal" textLength="25.5" lengthAdjust="spacingAndGlyphs" class="w">87(0)</text>
<text x="677.0" y="422.5" font-family="Liberation Serif" font-size="13" fill="#ffffff" font-weight="normal" font-style="normal" textLength="28.7" lengthAdjust="spacingAndGlyphs" class="w">60 (0)</text>
<text x="723.0" y="422.5" font-family="Liberation Serif" font-size="13" fill="#ffffff" font-weight="normal" font-style="normal" textLength="29.0" lengthAdjust="spacingAndGlyphs" class="w">32 (2)</text>
<text x="772.0" y="422.5" font-family="Liberation Serif" font-size="13" fill="#ffffff" font-weight="normal" font-style="normal" textLength="29.0" lengthAdjust="spacingAndGlyphs" class="w">25 (2)</text>
<text x="819.0" y="422.5" font-family="Liberation Serif" font-size="13" fill="#ffffff" font-weight="normal" font-style="normal" textLength="28.5" lengthAdjust="spacingAndGlyphs" class="w">18 (2)</text>
<text x="868.0" y="422.5" font-family="Liberation Serif" font-size="13" fill="#ffffff" font-weight="normal" font-style="normal" textLength="28.5" lengthAdjust="spacingAndGlyphs" class="w">14 (2)</text>
<text x="920.0" y="422.5" font-family="Liberation Serif" font-size="13" fill="#ffffff" font-weight="normal" font-style="normal" textLength="22.5" lengthAdjust="spacingAndGlyphs" class="w">6 (8)</text>
<text x="968.7" y="422.5" font-family="Liberation Serif" font-size="13" fill="#ffffff" font-weight="normal" font-style="normal" textLength="22.3" lengthAdjust="spacingAndGlyphs" class="w">0 (6)</text>
<text x="1018.0" y="422.5" font-family="Liberation Serif" font-size="13" fill="#ffffff" font-weight="normal" font-style="normal" textLength="20.0" lengthAdjust="spacingAndGlyphs" class="w">0(0)</text>
</svg>
</body></html>
